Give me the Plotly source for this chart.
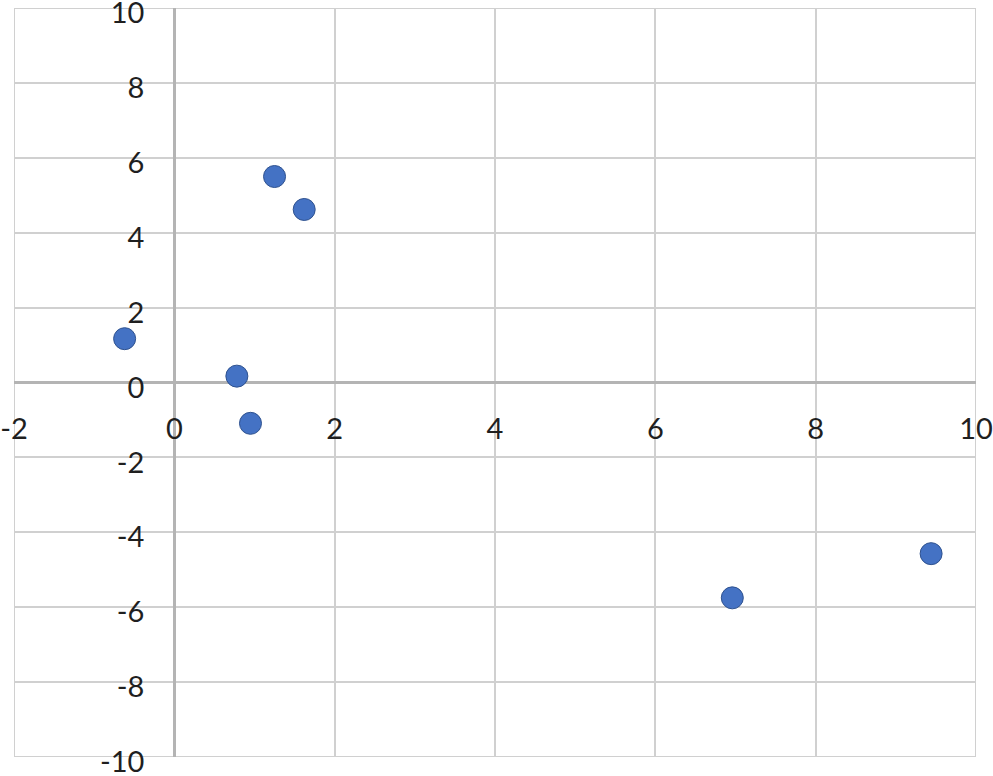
import plotly.graph_objects as go

# scatter values
x_vals = [1.25, 1.62, -0.62, 0.78, 0.95, 6.96, 9.44]
y_vals = [5.50, 4.62, 1.17, 0.17, -1.09, -5.75, -4.57]

x_ticks = [-2, 0, 2, 4, 6, 8, 10]
y_ticks = [-10, -8, -6, -4, -2, 0, 2, 4, 6, 8, 10]

grid_col = '#D0D0D0'
zero_col = '#B4B4B4'
font = dict(family='Lato, Open Sans, sans-serif', size=29, color='#1f1f1f')

fig = go.Figure()
fig.add_trace(go.Scatter(x=x_vals, y=y_vals, mode='markers',
                         marker=dict(size=22, color='#4472C4',
                                     line=dict(color='#2F528F', width=1)),
                         showlegend=False))

# outer frame (the edge gridlines)
fig.add_shape(type='rect', xref='x', yref='y', x0=x_ticks[0], x1=x_ticks[-1],
              y0=y_ticks[0], y1=y_ticks[-1], line=dict(color=grid_col, width=2),
              layer='below')

fig.update_layout(
    width=993, height=776,
    margin=dict(l=14, r=17, t=8, b=19),
    paper_bgcolor='white', plot_bgcolor='white',
    font=font,
    xaxis=dict(range=[-2, 10], tickvals=x_ticks, ticktext=[str(v) for v in x_ticks],
               showgrid=True, gridcolor=grid_col, gridwidth=2,
               zeroline=True, zerolinecolor=zero_col, zerolinewidth=3,
               showline=False, ticks='', anchor='free', position=0.5,
               automargin=False,
               ticklabelstandoff=26, ticklabeloverflow='allow', tickfont=font),
    yaxis=dict(range=[-10, 10], tickvals=y_ticks, ticktext=[str(v) for v in y_ticks],
               showgrid=True, gridcolor=grid_col, gridwidth=2,
               zeroline=True, zerolinecolor=zero_col, zerolinewidth=3,
               showline=False, ticks='', anchor='free', position=1/6,
               automargin=False, ticklabelshift=5,
               ticklabelstandoff=30, ticklabeloverflow='allow', tickfont=font),
)

# drop the default body margin so the chart sits at the page corner
fig.write_html("out.html", config={'displayModeBar': False},
               post_script="document.body.style.margin='0';")
